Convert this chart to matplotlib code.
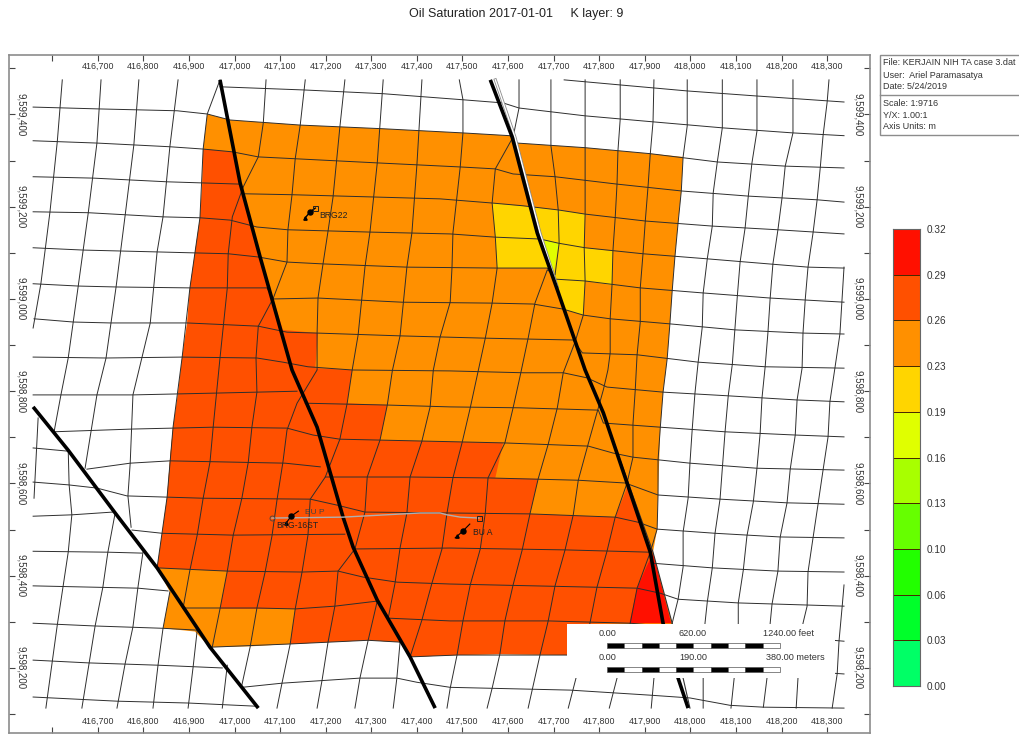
import numpy as np
import matplotlib
matplotlib.use('Agg')
import matplotlib.pyplot as plt
from matplotlib.collections import PolyCollection
from matplotlib.colors import ListedColormap, BoundaryNorm
from matplotlib.patches import Rectangle
from matplotlib.ticker import FixedLocator, FixedFormatter

plt.rcParams['font.family'] = ['Liberation Sans', 'DejaVu Sans']

# Map origin, every trace below is (metres east, metres north) of this point
EAST0 = 417000
NORTH0 = 9599000

# Grid lines running east-west
ROW_TOP = [(723,475),(846,464),(993,451),(1146,440),(1337,427)]
ROW_00 = [(-32,460),(155,453),(326,445),(499,432),(589,425),(624,414),(769,397),(918,384),(1070,371),(1225,360),(1337,354)]
ROW_01 = [(-442,416),(-297,412),(-126,408),(-60,401),(-10,388),(144,377),(326,369),(501,360),(604,354),(620,338),(769,328),(912,315),(1059,297),(1208,288),(1337,284)]
ROW_02 = [(-442,343),(-302,338),(-142,330),(-69,325),(-5,319),(52,308),(133,304),(313,295),(499,286),(572,282),(611,271),(703,265),(839,249),(982,234),(1127,223),(1278,215),(1337,210)]
ROW_03A = [(-442,265),(-310,262),(-148,254),(12,249)]
ROW_03B = [(23,228),(126,226),(308,221),(451,217),(565,208),(633,202),(710,193),(769,184),(901,169),(1048,158),(1192,150),(1337,141)]
ROW_04 = [(-442,189),(-321,187),(-157,178),(-76,176),(-10,171),(49,156),(117,150),(297,145),(473,141),(572,134),(670,130),(710,121),(769,111),(896,98),(1037,87),(1258,69),(1337,67)]
ROW_05 = [(-442,111),(-332,106),(-170,102),(-14,98),(52,91),(115,80),(194,76),(378,69),(576,67),(686,67),(703,43),(769,39),(890,24),(1028,13),(1175,2),(1337,-7)]
ROW_06 = [(-442,33),(-343,28),(-260,26),(-98,24),(71,24),(85,0),(183,2),(367,-7),(565,-9),(655,-11),(721,-22),(765,-35),(824,-43),(955,-54),(1098,-67),(1247,-74),(1337,-76)]
ROW_07 = [(-440,-43),(-354,-50),(-273,-52),(-104,-52),(52,-59),(115,-72),(183,-74),(363,-80),(550,-85),(743,-89),(763,-117),(883,-121),(1017,-137),(1164,-147),(1337,-150)]
ROW_08 = [(-442,-126),(-282,-128),(-115,-126),(49,-128),(106,-137),(161,-147),(258,-154),(473,-156),(633,-160),(721,-160),(773,-171),(817,-191),(940,-202),(1083,-210),(1234,-219),(1337,-223)]
ROW_09A = [(-442,-208),(-223,-208),(-38,-204),(137,-200)]
ROW_09B = [(155,-226),(335,-230),(473,-234),(626,-236),(798,-241),(809,-269),(934,-278),(1076,-288),(1230,-295),(1337,-299)]
ROW_10 = [(-398,-288),(-223,-282),(-47,-278),(115,-280),(172,-295),(231,-304),(411,-308),(589,-312),(776,-319),(830,-334),(874,-343),(999,-356),(1146,-367),(1337,-371)]
ROW_11A = [(-442,-323),(-365,-330)]
ROW_11B = [(-324,-369),(-229,-356),(-142,-351),(111,-356),(188,-364)]
ROW_11C = [(199,-386),(385,-386),(556,-388),(754,-393),(857,-399),(929,-425),(1065,-434),(1212,-442),(1337,-445)]
ROW_12 = [(-442,-397),(-365,-403),(-302,-410),(-236,-427),(-69,-432),(166,-434),(225,-447),(286,-462),(473,-464),(648,-466),(835,-473),(885,-484),(927,-499),(1054,-508),(1197,-516),(1337,-518)]
ROW_13A = [(-442,-471),(-357,-468),(-267,-462)]
ROW_13B = [(-225,-501),(-159,-508),(-3,-512),(242,-510)]
ROW_13C = [(264,-542),(473,-540),(725,-544),(912,-549)]
ROW_13D = [(918,-573),(1048,-583),(1192,-590),(1337,-592)]
ROW_14A = [(-442,-547),(-278,-549),(-203,-551)]
ROW_14B = [(-170,-583),(-16,-590),(148,-592),(227,-590),(282,-603),(357,-614),(473,-618),(795,-625),(883,-627),(934,-638),(973,-651),(1105,-659),(1337,-666)]
ROW_15A = [(-442,-622),(-212,-627),(-146,-633)]
ROW_15B = [(-113,-670),(49,-670),(133,-672),(220,-666),(313,-655)]
ROW_15C = [(337,-692),(473,-698),(688,-698),(868,-703),(1337,-742)]
ROW_16A = [(-442,-703),(-306,-709),(-157,-714),(-82,-718)]
ROW_16B = [(-54,-755),(122,-748),(293,-740),(363,-744)]
ROW_16C = [(385,-776),(488,-772),(730,-772),(1337,-813)]
ROW_17 = [(-442,-783),(-321,-789),(-168,-794),(-27,-800)]
ROW_18 = [(-442,-863),(-258,-872),(-102,-876),(49,-883)]
ROW_19 = [(16,-842),(104,-833),(275,-822),(356,-822),(400,-831),(473,-842),(736,-848),(912,-859),(999,-865),(1087,-881),(1160,-885),(1337,-887)]

# Grid lines running north-south
COL_01 = [(-378,475),(-389,341),(-405,189),(-425,33),(-442,-63)]
COL_02 = [(-293,475),(-302,338),(-321,187),(-343,28),(-365,-128),(-381,-208),(-396,-288)]
COL_02B = [(-431,-258),(-440,-432)]
COL_03 = [(-210,475),(-221,334),(-240,182),(-260,26),(-282,-128),(-302,-208),(-328,-367)]
COL_03B = [(-365,-328),(-363,-403),(-357,-468),(-365,-549),(-389,-707),(-414,-887)]
COL_03C = [(-262,-464),(-278,-549),(-289,-625),(-306,-709),(-335,-887)]
COL_04 = [(-124,475),(-142,330),(-157,178),(-170,102),(-185,-52),(-203,-126),(-223,-208),(-229,-356),(-234,-427),(-227,-495)]
COL_04B = [(-201,-549),(-212,-625),(-223,-711),(-240,-790),(-258,-887)]
COL_05 = [(-32,475),(-60,401),(-69,325),(-76,176),(-98,24),(-115,-126),(-135,-278),(-148,-429),(-170,-583)]
COL_05B = [(-142,-635),(-157,-714),(-168,-794),(-179,-887)]
COL_06 = [(69,475),(63,382),(52,308),(19,243),(-5,178),(-14,98),(-16,24),(-32,-128),(-47,-278),(-54,-354),(-69,-432),(-82,-512),(-98,-588),(-113,-670)]
COL_06B = [(-82,-718),(-91,-798),(-102,-887)]
COL_07 = [(155,475),(144,377),(133,304),(126,226),(117,150),(115,80),(85,2),(63,-39),(52,-59),(47,-128),(49,-202),(38,-278),(30,-354),(16,-432),(-3,-512),(-16,-590),(-32,-672),(-49,-755)]
COL_07B = [(-16,-794),(-27,-887)]
COL_08 = [(242,475),(231,373),(216,221),(205,147),(194,76),(183,2),(181,-74),(181,-154),(137,-226),(115,-284),(106,-354),(93,-436),(82,-514),(67,-592),(49,-670),(34,-755),(16,-837)]
COL_09 = [(326,475),(313,295),(297,145),(286,69),(271,-78),(258,-154),(247,-226),(231,-304),(199,-386),(166,-434),(161,-512),(148,-592),(133,-672),(122,-748),(104,-833),(93,-887)]
COL_10 = [(411,475),(400,291),(389,143),(378,69),(363,-80),(346,-156),(335,-230),(319,-306),(291,-386),(286,-462),(264,-542),(227,-590),(220,-666),(205,-744),(192,-826),(181,-887)]
COL_11 = [(493,475),(501,432),(501,360),(495,286),(479,143),(477,69),(473,-7),(451,-82),(436,-154),(429,-234),(411,-308),(385,-386),(378,-464),(363,-540),(352,-616),(337,-692)]
COL_11B = [(313,-655),(293,-740),(275,-822),(264,-887)]
COL_11C = [(363,-744),(356,-822),(348,-887)]
COL_12 = [(624,475),(624,414),(611,351),(572,282),(565,208),(572,134),(576,67),(565,-9),(550,-85),(534,-158),(517,-236),(499,-312),(479,-388),(466,-464),(455,-542),(433,-616),(411,-696),(385,-776)]
COL_13 = [(694,475),(694,332),(703,265),(710,193),(712,121),(703,52),(686,63),(659,-9),(644,-85),(626,-169),(611,-236),(593,-312),(556,-388),(550,-464),(539,-542),(517,-620),(501,-698),(488,-772),(473,-844),(466,-887)]
COL_14 = [(769,475),(769,397),(769,184),(767,111),(769,39),(765,-35),(747,-93),(721,-160),(708,-236),(688,-315),(666,-390),(648,-466),(631,-544),(611,-620),(593,-698),(582,-770),(565,-844),(554,-887)]
COL_15 = [(846,475),(846,390),(841,321),(839,249),(835,176),(830,104),(828,30),(824,-43),(824,-117),(819,-154),(809,-197),(798,-236),(780,-299),(754,-393),(743,-468),(725,-544),(703,-622),(688,-698),(670,-772),(644,-887)]
COL_16 = [(920,475),(918,384),(912,315),(907,243),(901,169),(896,98),(890,24),(890,-50),(883,-121),(879,-197),(874,-271),(874,-343),(861,-399),(835,-473),(817,-547),(795,-625),(780,-701),(749,-822),(732,-887)]
COL_17 = [(993,475),(993,375),(984,308),(980,234),(973,165),(966,91),(960,17),(955,-54),(949,-130),(940,-202),(934,-278),(929,-349),(929,-425),(927,-499),(912,-549),(883,-627),(868,-703),(839,-822),(822,-887)]
COL_18 = [(1070,475),(1070,371),(1059,297),(1050,230),(1048,158),(1037,87),(1028,13),(1026,-61),(1017,-137),(1010,-204),(1004,-282),(999,-356),(995,-432),(984,-505),(984,-581),(973,-651),(960,-703),(920,-822),(914,-887)]
COL_19 = [(1146,475),(1146,364),(1135,295),(1127,223),(1120,154),(1109,80),(1103,7),(1092,-141),(1083,-210),(1076,-288),(1065,-434),(1054,-508),(1048,-583),(1037,-657),(1032,-703),(1028,-822),(1028,-887)]
COL_20 = [(1225,475),(1225,360),(1208,288),(1201,219),(1192,150),(1181,76),(1175,2),(1170,-74),(1164,-147),(1157,-215),(1153,-291),(1146,-367),(1138,-440),(1124,-514),(1116,-588),(1105,-659),(1105,-703),(1096,-822),(1089,-887)]
COL_21 = [(1304,475),(1300,427),(1291,354),(1285,286),(1278,215),(1269,143),(1258,69),(1252,0),(1247,-74),(1245,-150),(1234,-219),(1230,-295),(1219,-369),(1212,-442),(1197,-516),(1192,-590),(1179,-662),(1175,-703),(1168,-822),(1160,-885)]
COL_22 = [(1337,69),(1328,-76),(1317,-150),(1306,-223),(1302,-299),(1291,-371),(1280,-445),(1269,-518),(1258,-592),(1256,-666),(1247,-703),(1236,-822),(1232,-887)]
COL_23 = [(1337,-620),(1333,-666),(1326,-742),(1322,-813),(1311,-887)]

# Faults
FAULT_1 = [(-442,-234),(-365,-328),(-262,-464),(-170,-583),(-54,-755),(52,-887)]
FAULT_2 = [(-32,475),(12,252),(56,91),(126,-154),(181,-278),(238,-473),(260,-538),(313,-653),(385,-776),(440,-887)]
FAULT_3 = [(561,475),(609,351),(664,143),(708,20),(769,-154),(809,-247),(861,-399),(912,-549),(940,-703),(973,-822),(995,-887)]
FAULT_3_GAP = [(572,475),(615,351),(670,143),(708,26)]
FAULT_3_THIN = [(809,-247),(918,-549),(960,-703),(984,-822),(999,-887)]

# Saturation zones
ZONE_ORANGE = [(-60,401),(-10,388),(144,377),(326,369),(501,360),(604,354),(620,338),(769,328),(912,315),(984,308),(980,234),(973,165),(966,91),(960,17),(955,-54),(949,-130),(940,-202),(934,-278),(929,-425),(927,-499),(918,-549),(960,-703),(960,-772),(730,-772),(582,-770),(488,-772),(385,-776),(363,-744),(293,-740),(205,-744),(122,-748),(38,-753),(-54,-755),(-87,-721),(-157,-714),(-142,-635),(-170,-583),(-159,-508),(-148,-429),(-142,-351),(-135,-278),(-124,-204),(-115,-126),(-104,-52),(-98,24),(-87,100),(-76,176),(-71,249),(-69,325)]
ZONE_DARK = [(-69,325),(-5,319),(12,252),(56,91),(106,-67),(183,-74),(177,-150),(258,-154),(247,-226),(335,-230),(319,-306),(411,-308),(589,-312),(572,-388),(666,-390),(648,-466),(835,-473),(857,-419),(863,-401),(918,-549),(907,-573),(866,-703),(730,-705),(730,-772),(582,-770),(488,-772),(385,-776),(363,-744),(293,-740),(205,-744),(122,-748),(133,-672),(-32,-672),(-16,-590),(-170,-583),(-159,-508),(-148,-429),(-142,-351),(-135,-278),(-124,-204),(-115,-126),(-104,-52),(-98,24),(-87,100),(-76,176),(-71,249)]
ZONE_YELLOW = [(565,208),(710,193),(769,184),(767,111),(830,104),(828,30),(769,39),(765,-35),(721,-22),(703,43),(686,67),(576,67),(572,134)]
ZONE_LIME = [(677,128),(712,121),(699,56)]
ZONE_RED = [(907,-573),(883,-627),(866,-703),(958,-703),(918,-551)]
ZONE_VALUES = [0.245, 0.275, 0.21, 0.175, 0.305]

# Wells
BRG22_TRACK = [(155,176),(166,189),(177,197)]
BRG16_TRACK = [(82,-475),(238,-473),(407,-464),(451,-464),(466,-468),(495,-473),(536,-475)]
BRG16_MARK = [(113,-486),(124,-471),(140,-460)]
BUA_MARK = [(484,-518),(501,-503),(516,-488)]

# Legend
LEVELS = [0.00, 0.03, 0.06, 0.10, 0.13, 0.16, 0.19, 0.23, 0.26, 0.29, 0.32]
LEVEL_COLORS = ['#00FF66', '#00FF2A', '#22FF00', '#66FF00', '#A8FF00', '#E0FF00', '#FFD500', '#FF9000', '#FF5000', '#FF1000']

# Axis ticks
X_TICKS = list(range(416600, 418301, 100))
Y_TICKS = list(range(9598100, 9599501, 100))


def draw_line(axis, trace, **style):
	xy = np.array(trace)
	axis.plot(EAST0 + xy[:, 0], NORTH0 + xy[:, 1], **style)


fig = plt.figure(figsize=(10.19, 7.35), dpi=100)
ax = fig.add_axes([8.5/1019, 2/735, 861.5/1019, 678.5/735])
ax.set_xlim(416504, 418394)
ax.set_ylim(9598059, 9599530)

cmap = ListedColormap(LEVEL_COLORS)
norm = BoundaryNorm(LEVELS, cmap.N)

# Filled saturation zones
zones = [np.array(z) + [EAST0, NORTH0] for z in (ZONE_ORANGE, ZONE_DARK, ZONE_YELLOW, ZONE_LIME, ZONE_RED)]
patches = PolyCollection(zones, array=np.array(ZONE_VALUES), cmap=cmap, norm=norm, edgecolors='none', zorder=1)
ax.add_collection(patches)

# Grid
rows = [ROW_TOP, ROW_00, ROW_01, ROW_02, ROW_03A, ROW_03B, ROW_04, ROW_05, ROW_06, ROW_07, ROW_08, ROW_09A, ROW_09B,
	ROW_10, ROW_11A, ROW_11B, ROW_11C, ROW_12, ROW_13A, ROW_13B, ROW_13C, ROW_13D, ROW_14A, ROW_14B, ROW_15A, ROW_15B,
	ROW_15C, ROW_16A, ROW_16B, ROW_16C, ROW_17, ROW_18, ROW_19]
cols = [COL_01, COL_02, COL_02B, COL_03, COL_03B, COL_03C, COL_04, COL_04B, COL_05, COL_05B, COL_06, COL_06B, COL_07,
	COL_07B, COL_08, COL_09, COL_10, COL_11, COL_11B, COL_11C, COL_12, COL_13, COL_14, COL_15, COL_16, COL_17, COL_18,
	COL_19, COL_20, COL_21, COL_22, COL_23]
for trace in rows + cols:
	draw_line(ax, trace, color='#2e2e2e', lw=0.7, zorder=2)

# Faults
draw_line(ax, FAULT_3_THIN, color='#333333', lw=0.8, zorder=3)
draw_line(ax, FAULT_3_GAP, color='#8c8c8c', lw=2.2, zorder=3)
draw_line(ax, FAULT_3_GAP, color='white', lw=1.0, zorder=3)
for trace in (FAULT_1, FAULT_2, FAULT_3):
	draw_line(ax, trace, color='black', lw=2.6, zorder=4, solid_capstyle='butt')

# Wells
draw_line(ax, BRG16_TRACK, color='#b0b0b0', lw=1.0, zorder=5)
draw_line(ax, BRG22_TRACK, color='black', lw=1.0, zorder=5)
draw_line(ax, BRG16_MARK, color='black', lw=0.8, zorder=5)
draw_line(ax, BUA_MARK, color='black', lw=0.8, zorder=5)
ax.plot([EAST0+166, EAST0+124, EAST0+501], [NORTH0+189, NORTH0-471, NORTH0-503], 'o', color='black', ms=3.6, zorder=6)
ax.plot([EAST0+155, EAST0+113, EAST0+488], [NORTH0+176, NORTH0-486, NORTH0-514], '^', color='black', ms=2.4, zorder=6)
ax.plot([EAST0+177, EAST0+536], [NORTH0+197, NORTH0-475], 's', mfc='none', mec='#222222', mew=0.7, ms=3.6, zorder=6)
ax.plot([EAST0+82], [NORTH0-475], 'o', mfc='none', mec='#444444', mew=0.6, ms=3.6, zorder=6)
ax.text(EAST0+185, NORTH0+182, 'BRG22', fontsize=6.2, color='#222222', va='center', zorder=6)
ax.text(EAST0+137, NORTH0-492, 'BRG-16ST', fontsize=6.2, color='#222222', ha='center', va='center', zorder=6)
ax.text(EAST0+176, NORTH0-464, 'BU P', fontsize=6.0, color='#444444', ha='center', va='center', zorder=6)
ax.text(EAST0+545, NORTH0-507, 'BU A', fontsize=6.2, color='#222222', ha='center', va='center', zorder=6)

# Ticks sit inside the frame, with their labels inside as well
ax.xaxis.set_major_locator(FixedLocator(X_TICKS))
ax.xaxis.set_major_formatter(FixedFormatter(['' if v == 416600 else f'{v:,}' for v in X_TICKS]))
ax.yaxis.set_major_locator(FixedLocator(Y_TICKS))
ax.yaxis.set_major_formatter(FixedFormatter([f'{v:,}' if v % 200 == 0 else '' for v in Y_TICKS]))
ax.tick_params(axis='x', which='major', direction='in', length=4.5, width=0.8, color='#444444', labelsize=6.4,
	labelcolor='#333333', top=True, bottom=True, labeltop=True, labelbottom=True, pad=-11.5)
ax.tick_params(axis='y', which='major', direction='in', length=4.5, width=0.8, color='#444444', labelsize=7.0,
	labelcolor='#333333', left=True, right=True, labelleft=True, labelright=True, labelrotation=270, pad=-12.4)
for label in ax.get_yticklabels(which='both'):
	label.set_verticalalignment('center')
for spine in ax.spines.values():
	spine.set_color('#8c8c8c')
	spine.set_linewidth(1.2)

# Overlay in picture pixels for the page furniture
ov = fig.add_axes([0, 0, 1, 1], zorder=5)
ov.set_xlim(0, 1019)
ov.set_ylim(735, 0)
ov.axis('off')
ov.patch.set_alpha(0)

ov.text(516, 14, 'Oil Saturation 2017-01-01     K layer: 9', fontsize=9.0, color='#222222', ha='center', va='center')

# Information box
ov.add_patch(Rectangle((880, 54.5), 160, 80.5, fc='white', ec='#8c8c8c', lw=1.0, clip_on=True))
ov.plot([880, 1019], [95, 95], color='#8c8c8c', lw=1.0)
info_lines = ['File: KERJAIN NIH TA case 3.dat', 'User:  Ariel Paramasatya', 'Date: 5/24/2019']
for y, line in zip([62, 75, 86], info_lines):
	ov.text(883, y, line, fontsize=6.5, color='#333333', va='center')
info_lines = ['Scale: 1:9716', 'Y/X: 1.00:1', 'Axis Units: m']
for y, line in zip([103, 115, 126], info_lines):
	ov.text(883, y, line, fontsize=6.5, color='#333333', va='center')

# Scale bars box
ov.add_patch(Rectangle((567, 624), 268, 54, fc='white', ec='none'))
for y, labels in ((634, ['0.00', '620.00', '1240.00 feet']), (657, ['0.00', '190.00', '380.00 meters'])):
	for x, text in zip([608, 693, 789 if 'feet' in labels[2] else 795], labels):
		ov.text(x, y, text, fontsize=6.6, color='#333333', ha='center', va='center')
for y in (643, 667):
	for i in range(10):
		ov.add_patch(Rectangle((607 + i*17.3, y), 17.3, 4.8, fc='black' if i % 2 == 0 else 'white', ec='#555555', lw=0.5))

# Colour legend
cax = fig.add_axes([893/1019, (735-686)/735, 27/1019, 457/735])
cax.pcolormesh([0, 1], np.arange(len(LEVELS)), np.array(LEVELS[:-1]).reshape(-1, 1) + 0.001, cmap=cmap, norm=norm,
	edgecolors='#4a2a00', linewidth=0.5)
cax.set_xticks([])
cax.yaxis.tick_right()
cax.set_yticks(np.arange(len(LEVELS)))
cax.set_yticklabels([f'{v:.2f}' for v in LEVELS], fontsize=7.2, color='#333333')
cax.tick_params(axis='y', length=0, pad=5)
for spine in cax.spines.values():
	spine.set_color('#666666')
	spine.set_linewidth(0.8)

fig.savefig('out.png', dpi=100)
